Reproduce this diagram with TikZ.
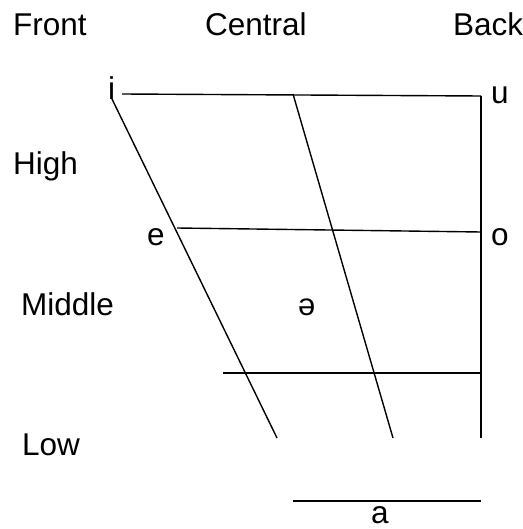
\documentclass[tikz,border=0pt]{standalone}
\usepackage{fontspec}
\setmainfont{Liberation Sans}
\usepackage{tikz}
\usetikzlibrary{positioning}

\begin{document}
\begin{tikzpicture}[
		x=1pt, y=-1pt,
		label/.style={
			anchor=base west,
			inner sep=0pt,
			font=\fontsize{31.5}{36}\selectfont
		},
		schwa/.style={
			anchor=base west,
			inner sep=0pt,
			font=\fontsize{31}{36}\selectfont
		},
		edge/.style={line width=1.4pt}
		]
		\useasboundingbox (0,0) rectangle (522,529);
		% column and row headings
		\node[label] (front) at (13,36) {Front};
		\node[label] (central) at (205,36) {Central};
		\node[label] (back) at (453,36) {Back};
		\node[label] (high) at (13,175) {High};
		\node[label] (middle) at (21,315) {Middle};
		\node[label] (low) at (22,455) {Low};
		% vowels
		\node[label] (i) at (108,100) {i};
		\node[label] (u) at (491,104) {u};
		\node[label] (e) at (147,245) {e};
		\node[label] (o) at (491,245) {o};
		\node[schwa] (schwa) at (298,315) {ə};
		\node[label] (a) at (371,523) {a};
		
		% corners of the chart
		\coordinate (hiL) at (122,94);
		\coordinate (hiC) at (293,94);
		\coordinate (hiR) at (481,96);
		\coordinate (frT) at (112,99);
		\coordinate (frB) at (277,438);
		\coordinate (ceB) at (393,438);
		\coordinate (baB) at (481,438);
		\coordinate (miL) at (177,228);
		\coordinate (miR) at (481,232);
		\coordinate (loL) at (223,373);
		\coordinate (loR) at (481,373);
		\coordinate (aL) at (293,501);
		\coordinate (aR) at (481,501);
		
		\draw[edge] (hiL) -- (hiR);
		\draw[edge] (frT) -- (frB);
		\draw[edge] (hiC) -- (ceB);
		\draw[edge] (hiR) -- (baB);
		\draw[edge] (miL) -- (miR);
		\draw[edge] (loL) -- (loR);
		\draw[edge] (aL) -- (aR);
	\end{tikzpicture}
\end{document}
